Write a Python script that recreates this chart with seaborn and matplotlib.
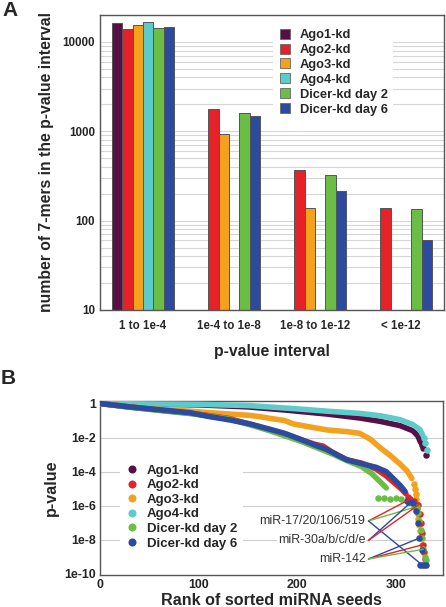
import numpy as np
import pandas as pd
import matplotlib
matplotlib.use("Agg")
import matplotlib.pyplot as plt
import seaborn as sns
from matplotlib.lines import Line2D
from matplotlib.ticker import LogLocator, FixedLocator, FixedFormatter, NullFormatter

# ---------------- data ----------------
conditions = ["Ago1-kd", "Ago2-kd", "Ago3-kd", "Ago4-kd", "Dicer-kd day 2", "Dicer-kd day 6"]
colors = ["#5a0e46", "#e52228", "#f4a11d", "#5ccbcb", "#6abd45", "#2d4b9e"]
intervals = ["1 to 1e-4", "1e-4 to 1e-8", "1e-8 to 1e-12", "< 1e-12"]
nan = np.nan
ago1_counts = [16300, nan, nan, nan]
ago2_counts = [14000, 1780, 368, 138]
ago3_counts = [15400, 925, 138, nan]
ago4_counts = [16500, nan, nan, nan]
dicer2_counts = [14200, 1620, 320, 135]
dicer6_counts = [14500, 1475, 216, 61]

# Panel B: rank of sorted seeds and log10 p-value (dense part read as knots)
ago1_rank = [0, 100, 150, 187, 230, 263, 284, 304, 317, 322, 325]
ago1_logp = [0, -0.08, -0.2, -0.38, -0.62, -0.85, -1.05, -1.3, -1.6, -1.9, -2.3]
ago1_tail_rank = [326, 327, 330]
ago1_tail_logp = [-2.45, -2.6, -3.0]

ago4_rank = [0, 100, 150, 196, 230, 263, 284, 304, 317, 324, 327]
ago4_logp = [0, -0.05, -0.12, -0.3, -0.45, -0.58, -0.72, -0.95, -1.24, -1.53, -1.85]
ago4_tail_rank = [328, 329.5, 331]
ago4_tail_logp = [-2.05, -2.3, -2.7]

ago3_rank = [0, 30, 62, 91, 111, 132, 152, 162, 172, 187, 196, 215, 230, 250, 263, 274, 284, 294, 304, 311, 316]
ago3_logp = [0, -0.2, -0.35, -0.45, -0.54, -0.62, -0.7, -0.77, -0.87, -1.0, -1.2, -1.4, -1.55, -1.65, -1.75,
             -2.1, -2.6, -3.05, -3.55, -3.95, -4.4]
ago3_tail_rank = [318, 319, 320, 320.5, 321, 321.5, 322, 322.5, 323, 324, 325, 326, 327]
ago3_tail_logp = [-4.7, -5.0, -5.3, -5.6, -5.9, -6.2, -6.5, -6.8, -7.1, -7.5, -7.9, -8.3, -8.7]

ago2_rank = [0, 30, 62, 96, 130, 152, 172, 190, 205, 218, 226, 235, 250, 265, 280, 290, 298, 305, 310]
ago2_logp = [0, -0.2, -0.4, -0.6, -0.87, -1.22, -1.55, -1.85, -2.15, -2.4, -2.5, -2.85, -3.3, -3.5, -3.85,
             -4.25, -4.65, -5.0, -5.3]
ago2_tail_rank = [312, 314, 318, 320.8, 322.5, 324, 325, 326, 327, 328, 329]
ago2_tail_logp = [-5.5, -5.62, -5.7, -6.05, -5.95, -6.5, -7.0, -7.6, -8.3, -8.7, -9.1]

dicer2_rank = [0, 30, 62, 96, 130, 152, 172, 190, 205, 220, 235, 250, 265, 275, 284, 290]
dicer2_logp = [0, -0.22, -0.42, -0.62, -0.9, -1.25, -1.6, -1.95, -2.25, -2.6, -2.95, -3.35, -3.7, -4.1,
               -4.6, -4.95]
dicer2_tail_rank = [282, 288, 294, 300, 305, 312, 318, 320.8, 322, 323, 325, 326, 327.5, 329, 330]
dicer2_tail_logp = [-5.55, -5.55, -5.6, -5.55, -5.6, -5.75, -6.1, -6.05, -6.4, -6.9, -7.4, -7.9, -8.55, -9.0, -9.2]

dicer6_rank = [0, 28, 62, 91, 111, 132, 152, 172, 187, 203, 216, 230, 243, 250, 263, 280, 290, 297, 304, 309]
dicer6_logp = [0, -0.19, -0.38, -0.54, -0.77, -0.97, -1.2, -1.51, -1.75, -2.1, -2.4, -2.7, -3.1, -3.3, -3.5,
               -3.75, -4.0, -4.4, -4.8, -5.15]
dicer6_tail_rank = [311, 313, 315.8, 317, 320, 322, 323.4, 326, 324, 326, 328, 330]
dicer6_tail_logp = [-5.7, -5.8, -5.76, -5.85, -6.3, -7.0, -7.9, -8.6, -9.45, -9.5, -9.45, -9.5]

annot_labels = ["miR-17/20/106/519", "miR-30a/b/c/d/e", "miR-142"]
annot_logp = [-6.89, -8.03, -9.12]
annot_targets = [
    [("Ago2-kd", 314, -5.62), ("Dicer-kd day 2", 320.8, -6.05), ("Dicer-kd day 6", 327, -9.5)],
    [("Dicer-kd day 6", 315.8, -5.76), ("Ago2-kd", 322.5, -5.95)],
    [("Dicer-kd day 6", 323.4, -7.9), ("Ago2-kd", 326, -8.3), ("Dicer-kd day 2", 327.5, -8.55)],
]

# ---------------- style ----------------
sns.set_theme(style="white")
plt.rcParams["font.family"] = ["Liberation Sans", "DejaVu Sans"]
palette = dict(zip(conditions, colors))

W, H = 446, 607
fig = plt.figure(figsize=(W / 100, H / 100), dpi=100)

def fr(l, t, r, b):
    return [l / W, 1 - b / H, (r - l) / W, (b - t) / H]

# ---------------- Panel A ----------------
axA = fig.add_axes(fr(100, 15, 444, 310))
counts = [ago1_counts, ago2_counts, ago3_counts, ago4_counts, dicer2_counts, dicer6_counts]
rows = []
for cond, vals in zip(conditions, counts):
    for iv, v in zip(intervals, vals):
        rows.append({"interval": iv, "condition": cond, "count": v})
dfA = pd.DataFrame(rows)
sns.barplot(data=dfA, x="interval", y="count", hue="condition", order=intervals,
            hue_order=conditions, palette=palette, width=0.72, ax=axA, saturation=1,
            edgecolor="#555555", linewidth=0.7, legend=False)
axA.set_yscale("log")
axA.set_ylim(10, 20000)
axA.set_xlim(-0.5, 3.5)
axA.yaxis.set_major_locator(FixedLocator([10, 100, 1000, 10000]))
axA.yaxis.set_major_formatter(FixedFormatter(["10", "100", "1000", "10000"]))
axA.yaxis.set_minor_locator(LogLocator(base=10, subs=np.arange(2, 10)))
axA.yaxis.set_minor_formatter(NullFormatter())
axA.set_axisbelow(True)
axA.yaxis.grid(True, which="both", color="#d6d6d6", linewidth=0.8)
axA.xaxis.grid(False)
axA.tick_params(axis="both", which="both", length=0)
axA.tick_params(axis="y", pad=3.5, labelsize=8.4)
axA.tick_params(axis="x", pad=7, labelsize=8.3)
for lab in axA.get_xticklabels() + axA.get_yticklabels():
    lab.set_fontweight("bold")
axA.set_xlabel("p-value interval", fontsize=11.3, fontweight="bold", labelpad=9)
axA.set_ylabel("number of 7-mers in the p-value interval", fontsize=11.3, fontweight="bold", labelpad=6)
for s in axA.spines.values():
    s.set_color("#555555")
    s.set_linewidth(1.0)

handlesA = [Line2D([], [], marker="s", linestyle="none", markersize=6.7, markerfacecolor=c,
                   markeredgecolor="#666666", markeredgewidth=0.6) for c in colors]
legA = axA.legend(handlesA, conditions, loc="upper left", bbox_to_anchor=(273 / W, 1 - 24 / H),
                  bbox_transform=fig.transFigure, frameon=True, facecolor="white", edgecolor="none",
                  framealpha=1, fancybox=False, borderaxespad=0, borderpad=0.4, handlelength=1.0,
                  handletextpad=0.7, labelspacing=0.22, prop={"weight": "bold", "size": 9.3})

# ---------------- Panel B ----------------
axB = fig.add_axes(fr(100, 401, 443, 575))
line_sets = {
    "Ago1-kd": (ago1_rank, ago1_logp, ago1_tail_rank, ago1_tail_logp),
    "Ago4-kd": (ago4_rank, ago4_logp, ago4_tail_rank, ago4_tail_logp),
    "Ago3-kd": (ago3_rank, ago3_logp, ago3_tail_rank, ago3_tail_logp),
    "Ago2-kd": (ago2_rank, ago2_logp, ago2_tail_rank, ago2_tail_logp),
    "Dicer-kd day 2": (dicer2_rank, dicer2_logp, dicer2_tail_rank, dicer2_tail_logp),
    "Dicer-kd day 6": (dicer6_rank, dicer6_logp, dicer6_tail_rank, dicer6_tail_logp),
}
axB.set_yscale("log")
z = 3
for cond, (r, lp, tr, tlp) in line_sets.items():
    dfl = pd.DataFrame({"rank": r, "p": 10.0 ** np.array(lp, dtype=float)})
    sns.lineplot(data=dfl, x="rank", y="p", color=palette[cond], linewidth=4.0, sort=False,
                 estimator=None, ax=axB, zorder=z, solid_capstyle="round", solid_joinstyle="round")
    dft = pd.DataFrame({"rank": tr, "p": 10.0 ** np.array(tlp, dtype=float)})
    sns.scatterplot(data=dft, x="rank", y="p", color=palette[cond], s=22, linewidth=0,
                    ax=axB, zorder=z + 0.5)
    z += 1

# annotations
for lab, alp, targets in zip(annot_labels, annot_logp, annot_targets):
    axB.text(269, 10.0 ** alp, lab, ha="right", va="center", fontsize=8.9, color="#333333",
             bbox=dict(facecolor="white", edgecolor="none", pad=0.6), zorder=2.5)
    for cond, tx, ty in targets:
        axB.plot([272, tx], [10.0 ** alp, 10.0 ** ty], color=palette[cond], linewidth=1.0, zorder=10)

axB.set_xlim(0, 347.5)
axB.set_ylim(8.7e-11, 1.4)
ymaj = [1e0, 1e-2, 1e-4, 1e-6, 1e-8, 1e-10]
axB.yaxis.set_major_locator(FixedLocator(ymaj))
axB.yaxis.set_major_formatter(FixedFormatter(["1", "1e-2", "1e-4", "1e-6", "1e-8", "1e-10"]))
axB.yaxis.set_minor_locator(FixedLocator([1e-1, 1e-3, 1e-5, 1e-7, 1e-9]))
axB.yaxis.set_minor_formatter(NullFormatter())
axB.xaxis.set_major_locator(FixedLocator([0, 100, 200, 300]))
for yv in [1e-2, 1e-4, 1e-6, 1e-8]:
    axB.axhline(yv, color="#cfcfcf", linewidth=0.8, zorder=0.5)
axB.grid(False)
axB.tick_params(axis="y", which="both", direction="in", length=4, width=0.8, color="#444444",
                labelsize=8.9, pad=3)
axB.tick_params(axis="x", which="both", direction="in", length=7, width=0.8, color="#444444",
                labelsize=8.9, pad=3)
for lab in axB.get_xticklabels() + axB.get_yticklabels():
    lab.set_fontweight("bold")
axB.set_xlabel("Rank of sorted miRNA seeds", fontsize=11.6, fontweight="bold", labelpad=1)
axB.set_ylabel("p-value", fontsize=11.6, fontweight="bold", labelpad=4)
for s in axB.spines.values():
    s.set_color("#555555")
    s.set_linewidth(1.0)

handlesB = [Line2D([], [], marker="o", linestyle="none", markersize=5.8, markerfacecolor=c,
                   markeredgecolor=c, markeredgewidth=0) for c in colors]
legB = axB.legend(handlesB, conditions, loc="upper left", bbox_to_anchor=(120 / W, 1 - 459 / H),
                  bbox_transform=fig.transFigure, frameon=True, facecolor="white", edgecolor="none",
                  framealpha=1, fancybox=False, borderaxespad=0, borderpad=0.4, handlelength=1.0,
                  handletextpad=0.65, labelspacing=0.18, prop={"weight": "bold", "size": 9.5})
legB.set_zorder(20)

fig.text(2 / W, 1 - 1 / H, "A", fontsize=15, fontweight="bold", va="top", ha="left")
fig.text(1 / W, 1 - 369 / H, "B", fontsize=15, fontweight="bold", va="top", ha="left")

fig.savefig("out.png", dpi=100)
